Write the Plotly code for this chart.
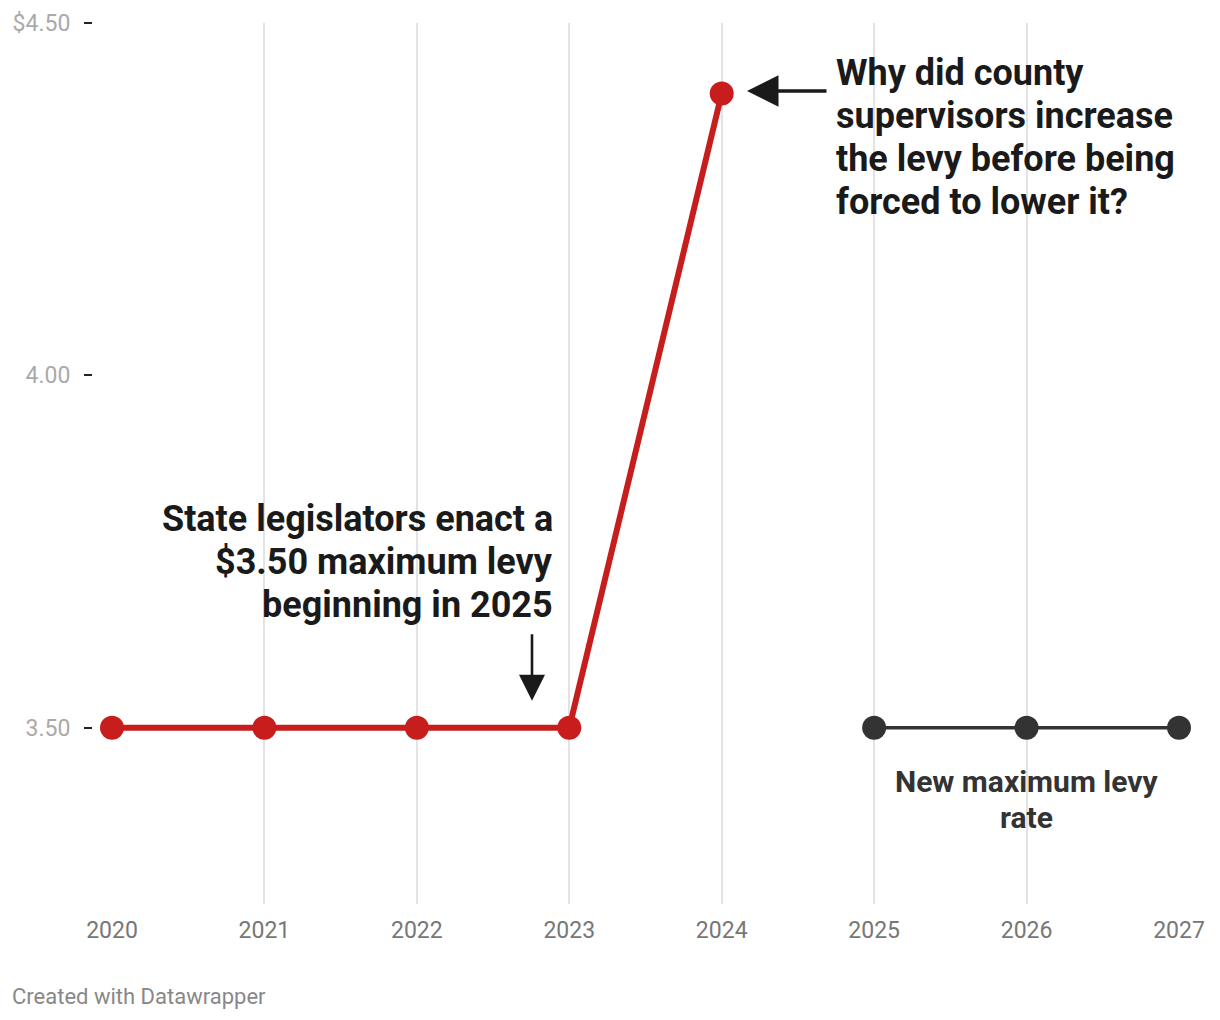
import plotly.graph_objects as go

# ---- data ----
years_actual = [2020, 2021, 2022, 2023, 2024]
levy_actual = [3.50, 3.50, 3.50, 3.50, 4.40]
years_max = [2025, 2026, 2027]
levy_max = [3.50, 3.50, 3.50]
x_ticks = [2020, 2021, 2022, 2023, 2024, 2025, 2026, 2027]
y_ticks = [3.50, 4.00, 4.50]
y_tick_labels = ["3.50", "4.00", "$4.50"]

question_lines = ["Why did county", "supervisors increase", "the levy before being", "forced to lower it?"]
law_lines = ["State legislators enact a", "$3.50 maximum levy", "beginning in 2025"]
max_lines = ["New maximum levy", "rate"]

RED = "#c71e1d"
DARK = "#333333"
INK = "#1a1a1a"
FONT = "Roboto"

# page body has an 8px margin; size the figure to compensate
OFF = 8
W, H = 1220 - OFF, 1020 - OFF
ML, MR, MT, MB = 0, 41, 23 - OFF, 116
plot_w = W - ML - MR
plot_h = H - MT - MB
x_start = (112 - OFF) / plot_w
y_axis_pos = (92 - OFF) / plot_w


def vx(px):
    """reference-pixel x -> data x"""
    return 2020 + (px - 112) / ((1179 - 112) / 7)


def vy(py):
    """reference-pixel y -> data y"""
    return 3.5 + (728 - py) / 705.0


fig = go.Figure()
fig.add_trace(go.Scatter(
    x=years_actual, y=levy_actual, mode="lines+markers",
    line=dict(color=RED, width=6),
    marker=dict(color=RED, size=24),
    cliponaxis=False, hoverinfo="skip", showlegend=False,
))
fig.add_trace(go.Scatter(
    x=years_max, y=levy_max, mode="lines+markers",
    line=dict(color=DARK, width=3.5),
    marker=dict(color=DARK, size=24),
    cliponaxis=False, hoverinfo="skip", showlegend=False,
))

annotations = []
FS_BIG = 36
for i, line in enumerate(question_lines):
    annotations.append(dict(
        x=vx(834), y=vy(86 + 43 * i - 0.35 * FS_BIG), xref="x", yref="y",
        xanchor="left", yanchor="middle", showarrow=False,
        text="<b>" + line + "</b>", font=dict(family=FONT, size=FS_BIG, color=INK)))
for i, line in enumerate(law_lines):
    annotations.append(dict(
        x=vx(555), y=vy(531.5 + 43 * i - 0.35 * FS_BIG), xref="x", yref="y",
        xanchor="right", yanchor="middle", showarrow=False,
        text="<b>" + line + "</b>", font=dict(family=FONT, size=FS_BIG, color=INK)))
FS_MAX = 30
for i, line in enumerate(max_lines):
    annotations.append(dict(
        x=2026, y=vy(792 + 36 * i - 0.35 * FS_MAX), xref="x", yref="y",
        xanchor="center", yanchor="middle", showarrow=False,
        text="<b>" + line + "</b>", font=dict(family=FONT, size=FS_MAX, color=DARK)))

# arrows
annotations.append(dict(
    x=vx(747), y=vy(91), ax=vx(828), ay=vy(91), xref="x", yref="y",
    axref="x", ayref="y", text="", showarrow=True, arrowhead=2,
    arrowsize=1.8, arrowwidth=3.5, arrowcolor=INK, standoff=0))
annotations.append(dict(
    x=vx(532), y=vy(701), ax=vx(532), ay=vy(633), xref="x", yref="y",
    axref="x", ayref="y", text="", showarrow=True, arrowhead=2,
    arrowsize=2.0, arrowwidth=2.6, arrowcolor=INK, standoff=0))

# footer
annotations.append(dict(
    x=(10 - OFF) / plot_w, y=-(997 - 904) / plot_h, xref="paper", yref="paper",
    xanchor="left", yanchor="middle", showarrow=False,
    text="Created with Datawrapper",
    font=dict(family=FONT, size=22, color="#888888")))

fig.update_layout(
    width=W, height=H,
    margin=dict(l=ML, r=MR, t=MT, b=MB, pad=0, autoexpand=False),
    paper_bgcolor="white", plot_bgcolor="white",
    font=dict(family=FONT),
    xaxis=dict(
        domain=[x_start, 1], range=[2020, 2027], automargin=False,
        tickvals=x_ticks, ticktext=[str(v) for v in x_ticks],
        showgrid=True, gridcolor="#e3e3e3", gridwidth=1.5,
        zeroline=False, showline=False, ticks="",
        ticklabelstandoff=10,
        tickfont=dict(family=FONT, size=23, color="#777777"),
    ),
    yaxis=dict(
        range=[3.25, 4.5], anchor="free", position=y_axis_pos, automargin=False,
        tickvals=y_ticks, ticktext=y_tick_labels,
        showgrid=False, zeroline=False, showline=False,
        ticks="outside", ticklen=8, tickwidth=1.5, tickcolor="#222222",
        ticklabelstandoff=9,
        tickfont=dict(family=FONT, size=23, color="#aaaaaa"),
    ),
    annotations=annotations,
)

fig.write_html("out.html")
